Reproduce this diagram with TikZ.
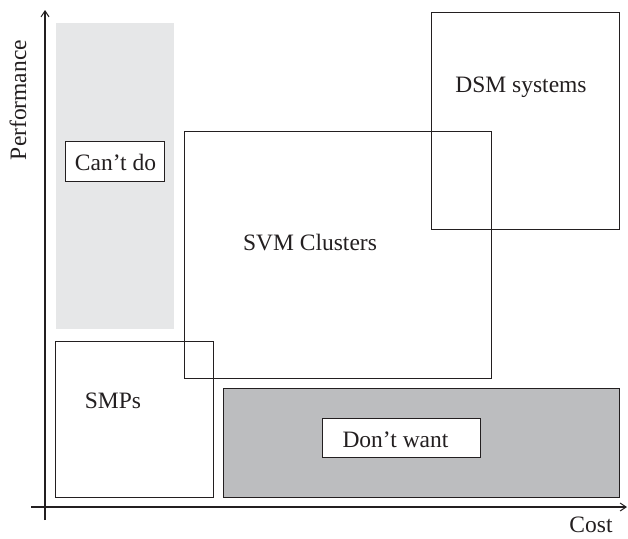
\documentclass[tikz,border=0pt]{standalone}
\usepackage{fontspec}
\setmainfont{Liberation Serif}
\usetikzlibrary{arrows.meta}
\definecolor{lightfill}{HTML}{E6E7E8}
\definecolor{darkfill}{HTML}{BCBDBF}
\definecolor{ink}{HTML}{231F20}
\tikzset{
  box/.style={draw=ink, line width=1pt, inner sep=0pt, anchor=north west},
  lbl/.style={text=ink, inner sep=0pt, anchor=base, font=\fontsize{23.5}{28}\selectfont},
  axis/.style={draw=ink, line width=1.4pt, -{Straight Barb[length=6pt,width=8pt,line width=1pt]}}
}
\begin{document}
\begin{tikzpicture}[x=1pt,y=-1pt]
\useasboundingbox (0,0) rectangle (628,538);
% regions
\node[box, draw=none, fill=lightfill, minimum width=118pt, minimum height=306pt] (cantregion) at (55.5,22.5) {};
\node[box, fill=darkfill, minimum width=396pt, minimum height=109pt] (dontregion) at (223,388) {};
\node[box, minimum width=158pt, minimum height=156pt] (smp) at (55,341) {};
\node[box, minimum width=307pt, minimum height=247pt] (svm) at (183.5,131) {};
\node[box, minimum width=188pt, minimum height=217pt] (dsm) at (431,12) {};
\node[box, fill=white, minimum width=99pt, minimum height=40pt] (cantbox) at (65,141) {};
\node[box, fill=white, minimum width=158pt, minimum height=39pt] (dontbox) at (322,418) {};
% labels
\node[lbl] (cantlbl) at (115.5,170.5) {Can’t do};
\node[lbl] (dontlbl) at (395.5,447.5) {Don’t want};
\node[lbl] (smplbl) at (113,408) {SMPs};
\node[lbl] (svmlbl) at (310,250) {SVM Clusters};
\node[lbl] (dsmlbl) at (521,92) {DSM systems};
\node[lbl] (costlbl) at (591,532) {Cost};
\node[lbl, rotate=90] (perflbl) at (26,100) {Performance};
% axes
\coordinate (yb) at (45,520);
\coordinate (yt) at (45,10);
\coordinate (xl) at (31,507);
\coordinate (xr) at (627,507);
\draw[axis] (yb) -- (yt);
\draw[axis] (xl) -- (xr);
\end{tikzpicture}
\end{document}
